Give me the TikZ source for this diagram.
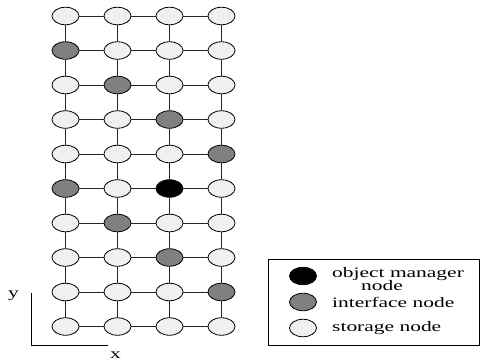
\documentclass[tikz,border=0pt]{standalone}
\usepackage{fontspec}
\setmainfont[FakeStretch=1.48]{Liberation Serif}
\usetikzlibrary{shapes.geometric}
\definecolor{storagefill}{HTML}{F0F0F0}
\definecolor{ifacefill}{HTML}{808080}
\tikzset{
  gridnode/.style={ellipse, draw=black, line width=0.8pt, inner sep=0pt,
    minimum width=27pt, minimum height=17.5pt},
  storage/.style={gridnode, fill=storagefill},
  iface/.style={gridnode, fill=ifacefill},
  manager/.style={gridnode, fill=black},
  link/.style={line width=0.8pt, draw=black!85},
  lbl/.style={anchor=base west, inner sep=0pt, font=\fontsize{14.5}{16}\selectfont},
}
\begin{document}
\begin{tikzpicture}[x=1pt, y=-1pt]
\useasboundingbox (0,0) rectangle (480,362);
% mesh nodes, one row per entry: row / kinds of columns 1..4
\foreach \r/\ka/\kb/\kc/\kd in {
  1/storage/storage/storage/storage,
  2/iface/storage/storage/storage,
  3/storage/iface/storage/storage,
  4/storage/storage/iface/storage,
  5/storage/storage/storage/iface,
  6/iface/storage/manager/storage,
  7/storage/iface/storage/storage,
  8/storage/storage/iface/storage,
  9/storage/storage/storage/iface,
  10/storage/storage/storage/storage}{
  \foreach \c/\k in {1/\ka,2/\kb,3/\kc,4/\kd}{
    \pgfmathsetmacro{\px}{65.5+(\c-1)*52}
    \pgfmathsetmacro{\py}{16+(\r-1)*34.5}
    \node[\k] (n-\r-\c) at (\px,\py) {};
  }
}
% mesh links
\foreach \r in {1,...,10}{
  \foreach \c [evaluate=\c as \d using int(\c+1)] in {1,2,3}{
    \draw[link] (n-\r-\c) -- (n-\r-\d);
  }
}
\foreach \r [evaluate=\r as \s using int(\r+1)] in {1,...,9}{
  \foreach \c in {1,...,4}{
    \draw[link] (n-\r-\c) -- (n-\s-\c);
  }
}
% axes
\coordinate (ax-top) at (31,293);
\coordinate (ax-origin) at (31,345);
\coordinate (ax-right) at (108,345);
\draw[line width=0.8pt] (ax-top) -- (ax-origin) -- (ax-right);
\node[lbl] (ylabel) at (8,297) {y};
\node[lbl] (xlabel) at (110,358) {x};
% legend
\draw[line width=0.8pt] (268,259) rectangle (479,345);
\node[gridnode, fill=black] (key-m) at (303,276) {};
\node[gridnode, fill=ifacefill] (key-i) at (303,302) {};
\node[gridnode, fill=storagefill] (key-s) at (303,328) {};
\node[lbl] (txt-m1) at (332,277) {object manager};
\node[lbl] (txt-m2) at (361,290) {node};
\node[lbl] (txt-i) at (332,307) {interface node};
\node[lbl] (txt-s) at (332,331) {storage node};
\end{tikzpicture}
\end{document}
